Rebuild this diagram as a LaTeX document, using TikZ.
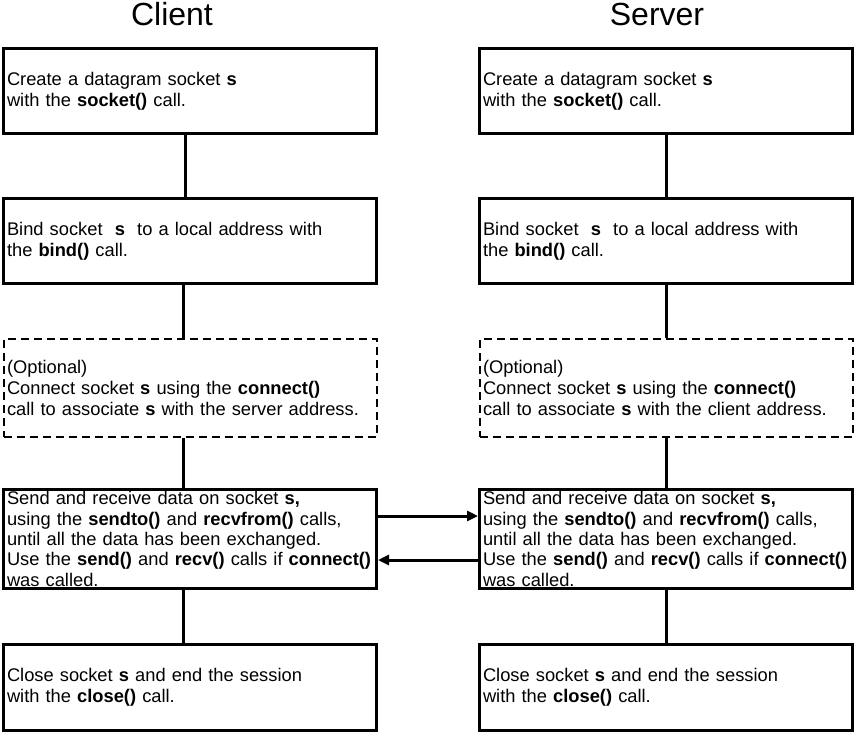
\documentclass[tikz,border=0pt]{standalone}
\usepackage{fontspec}
\setmainfont{Liberation Sans}
\usepackage{tikz}
\usetikzlibrary{positioning,arrows.meta}

\tikzset{
  stepbox/.style={draw, line width=3pt, minimum width=373pt, text width=366pt,
    inner xsep=3.5pt, inner ysep=0pt, align=left, font=\fontsize{18.3}{21}\selectfont},
  optbox/.style={stepbox, line width=2pt, dash pattern=on 8pt off 5pt},
  databox/.style={stepbox, font=\fontsize{18.3}{20.4}\selectfont},
  sidetitle/.style={anchor=base, font=\fontsize{32}{36}\selectfont},
  link/.style={line width=3pt},
  msg/.style={line width=3pt, -{Triangle[length=11pt,width=10pt]}}
}

\begin{document}
\begin{tikzpicture}[x=1pt,y=-1pt]
    \useasboundingbox (0,0) rectangle (856,734);
    % titles
    \node[sidetitle] (client) at (172,25) {Client};
    \node[sidetitle] (server) at (657,25) {Server};
    % client side
    \node[stepbox,minimum height=85pt,anchor=north west] (c1) at (2,47)
        {Create a datagram socket \textbf{s}\\with the \textbf{socket()} call.};
    \node[stepbox,minimum height=85pt,below=62pt of c1] (c2)
        {Bind socket~ \textbf{s}~ to a local address with\\the \textbf{bind()} call.};
    \node[optbox,minimum height=98pt,below=53pt of c2] (c3)
        {(Optional)\\Connect socket \textbf{s} using the \textbf{connect()}\\call to associate \textbf{s} with the server address.};
    \node[databox,minimum height=99pt,below=50pt of c3] (c4)
        {Send and receive data on socket \textbf{s,}\\using the \textbf{sendto()} and \textbf{recvfrom()} calls,\\until all the data has been exchanged.\\\mbox{Use the \textbf{send()} and \textbf{recv()} calls if \textbf{connect()}}\\was called.};
    \node[stepbox,minimum height=86pt,below=53pt of c4] (c5)
        {Close socket \textbf{s} and end the session\\with the \textbf{close()} call.};
    % server side
    \node[stepbox,minimum height=85pt,right=100pt of c1] (s1)
        {Create a datagram socket \textbf{s}\\with the \textbf{socket()} call.};
    \node[stepbox,minimum height=85pt,below=62pt of s1] (s2)
        {Bind socket~ \textbf{s}~ to a local address with\\the \textbf{bind()} call.};
    \node[optbox,minimum height=98pt,below=53pt of s2] (s3)
        {(Optional)\\Connect socket \textbf{s} using the \textbf{connect()}\\call to associate \textbf{s} with the client address.};
    \node[databox,minimum height=99pt,below=50pt of s3] (s4)
        {Send and receive data on socket \textbf{s,}\\using the \textbf{sendto()} and \textbf{recvfrom()} calls,\\until all the data has been exchanged.\\\mbox{Use the \textbf{send()} and \textbf{recv()} calls if \textbf{connect()}}\\was called.};
    \node[stepbox,minimum height=86pt,below=53pt of s4] (s5)
        {Close socket \textbf{s} and end the session\\with the \textbf{close()} call.};
    % links
    \draw[link] ([xshift=-5pt]c1.south) -- ([xshift=-5pt]c2.north);
    \draw[link] ([xshift=-7pt]c2.south) -- ([xshift=-7pt]c3.north);
    \draw[link] ([xshift=-7pt]c3.south) -- ([xshift=-7pt]c4.north);
    \draw[link] ([xshift=-7pt]c4.south) -- ([xshift=-7pt]c5.north);
    \draw[link] (s1.south) -- (s2.north);
    \draw[link] (s2.south) -- (s3.north);
    \draw[link] (s3.south) -- (s4.north);
    \draw[link] (s4.south) -- (s5.north);
    % datagrams
    \draw[msg] ([yshift=23pt]c4.east) -- ([yshift=23pt]s4.west);
    \draw[msg] ([yshift=-21pt]s4.west) -- ([yshift=-21pt]c4.east);
\end{tikzpicture}
\end{document}
